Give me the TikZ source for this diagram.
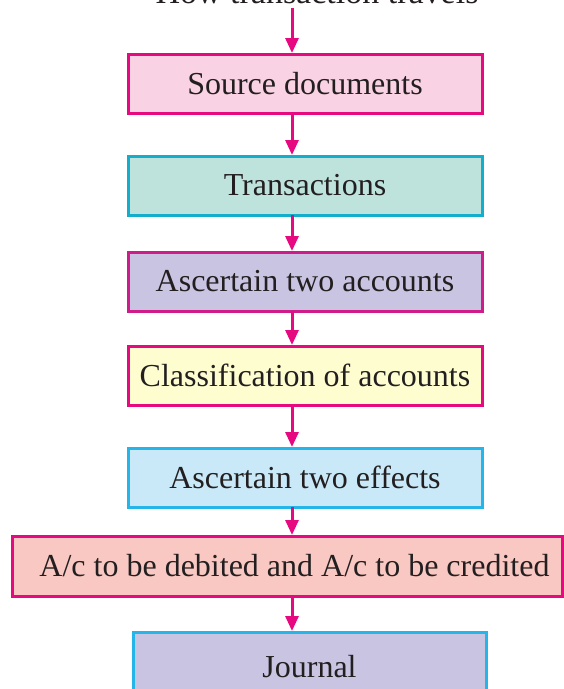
\documentclass[tikz,border=0pt]{standalone}
\usepackage{fontspec}
\setmainfont{Liberation Serif}
\usetikzlibrary{arrows.meta}
\definecolor{mag}{HTML}{E6097F}
\definecolor{mag2}{HTML}{D01C8B}
\definecolor{cyn}{HTML}{12AECB}
\definecolor{cyn2}{HTML}{26B5E8}
\definecolor{txt}{HTML}{231F20}
\definecolor{f1}{HTML}{F9D3E3}
\definecolor{f2}{HTML}{BDE3DC}
\definecolor{f3}{HTML}{C8C4E2}
\definecolor{f4}{HTML}{FEFDD0}
\definecolor{f5}{HTML}{C9E9F8}
\definecolor{f6}{HTML}{F9C8C2}
\begin{document}
\begin{tikzpicture}[x=1pt,y=-1pt,
  box/.style={draw, line width=3pt, text=txt, inner sep=0pt, font=\fontsize{32}{37}\selectfont},
  conn/.style={draw=mag, line width=3pt, -{Triangle[length=15pt,width=13pt]}, shorten >=1pt}]
\useasboundingbox (0,0) rectangle (563,689);
\node[text=txt, anchor=base, font=\fontsize{34}{39}\selectfont] (title) at (317,3) {How transaction travels};
\coordinate (start) at (292,8);
\node[box, draw=mag, fill=f1, minimum width=354pt, minimum height=59pt] (b1) at (305,83.5) {Source documents};
\node[box, draw=cyn, fill=f2, minimum width=354pt, minimum height=59pt] (b2) at (305,185.5) {Transactions};
\node[box, draw=mag2, fill=f3, minimum width=354pt, minimum height=59pt] (b3) at (305,281.5) {Ascertain two accounts};
\node[box, draw=mag, fill=f4, minimum width=354pt, minimum height=59pt] (b4) at (305,375.5) {Classification of accounts};
\node[box, draw=cyn2, fill=f5, minimum width=354pt, minimum height=59pt] (b5) at (305,477.5) {Ascertain two effects};
\node[box, draw=mag, fill=f6, minimum width=550pt, minimum height=60pt] (b6) at (287,566) {\hspace*{15pt}A/c to be debited and A/c to be credited};
\node[box, draw=cyn2, fill=f3, minimum width=353pt, minimum height=70pt] (b7) at (309.5,667) {Journal};
\draw[conn] (start) -- (292,54);
\draw[conn] (292,113) -- (292,156);
\draw[conn] (292,215) -- (292,252);
\draw[conn] (292,311) -- (292,346);
\draw[conn] (292,405) -- (292,448);
\draw[conn] (292,507) -- (292,536);
\draw[conn] (292,596) -- (292,632);
\end{tikzpicture}
\end{document}
